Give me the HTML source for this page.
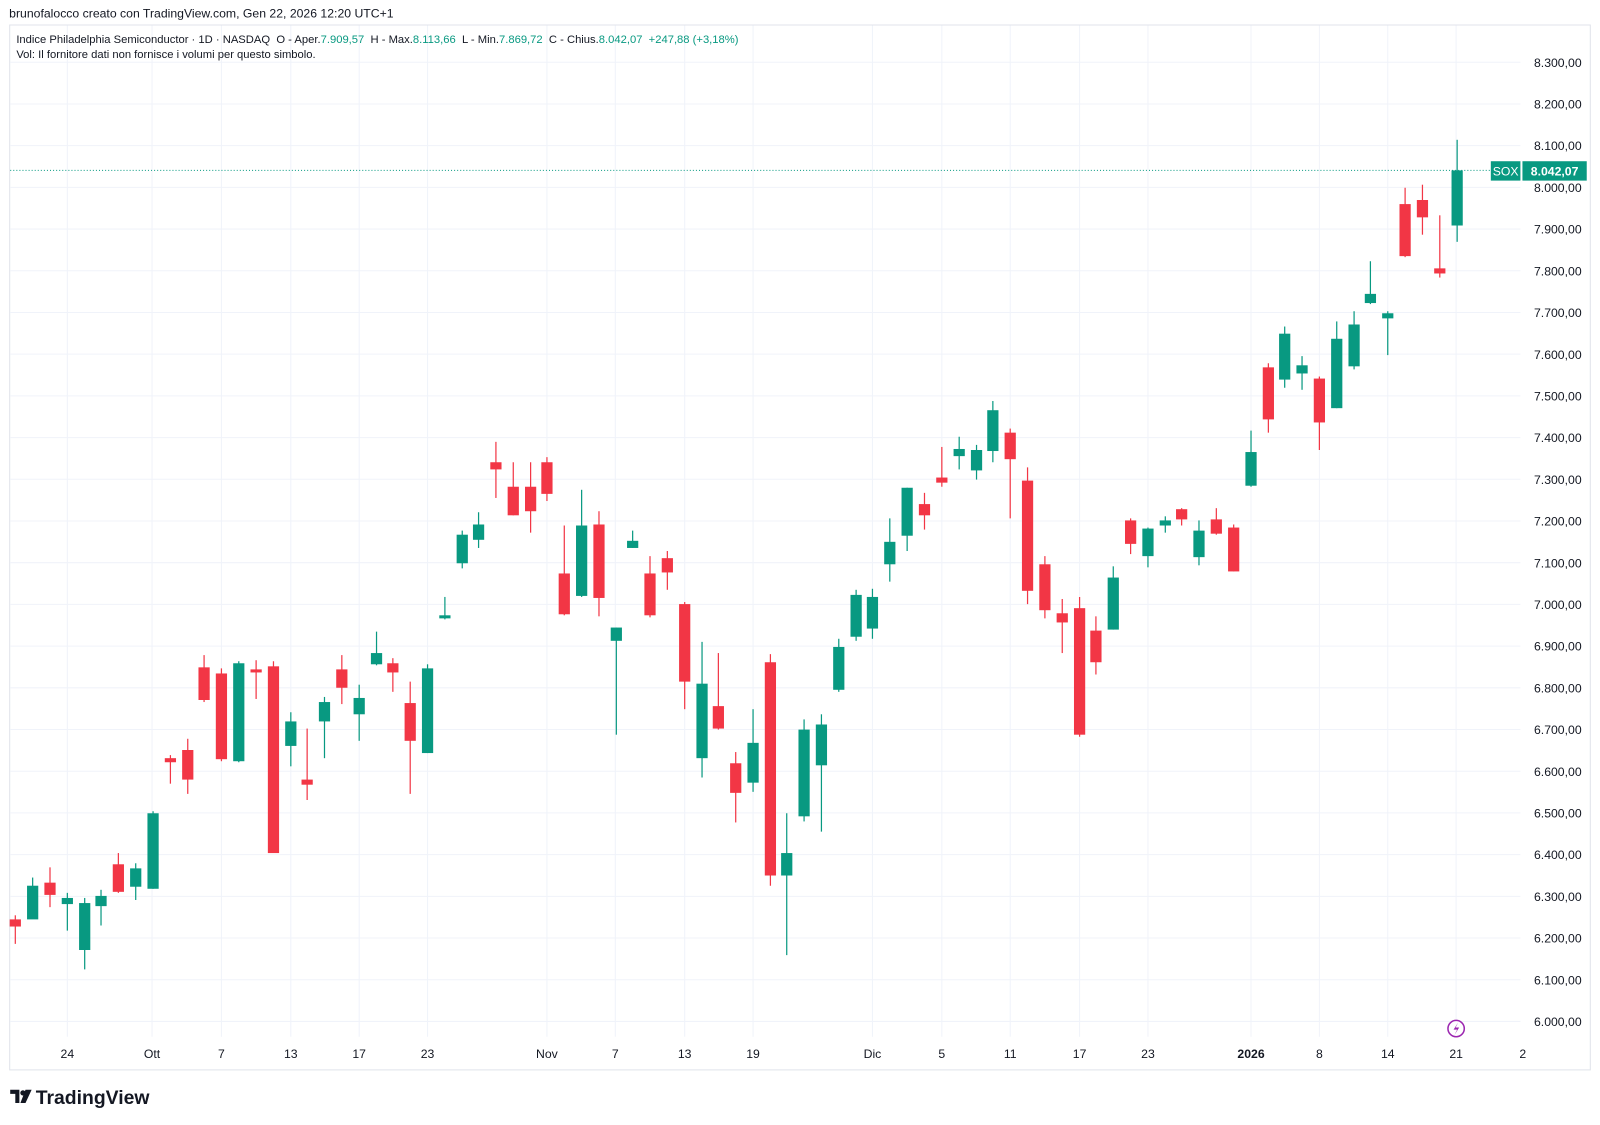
<!DOCTYPE html>
<html><head><meta charset="utf-8"><style>
html,body{margin:0;padding:0;background:#fff;}
svg{display:block;font-family:"Liberation Sans","DejaVu Sans",sans-serif;}
</style></head><body>
<svg id="c" width="1600" height="1125" viewBox="0 0 1568 1102.5" xmlns="http://www.w3.org/2000/svg">
<rect x="0" y="0" width="1568" height="1102.5" fill="#fff"/>
<text x="9" y="17" font-size="12" fill="#131722">brunofalocco creato con TradingView.com, Gen 22, 2026 12:20 UTC+1</text>
<rect x="9.5" y="24.5" width="1549" height="1024" fill="none" stroke="#e0e3eb" stroke-width="1"/>
<g id="grid"></g>
<g id="candles"></g>
<line x1="10" y1="167" x2="1460" y2="167" stroke="#089981" stroke-width="1" stroke-dasharray="1,2"/>
<rect x="1461" y="158" width="29" height="19" fill="#089981"/>
<text x="1475.5" y="172" font-size="12" fill="#fff" text-anchor="middle">SOX</text>
<rect x="1492" y="158" width="63" height="19" fill="#089981"/>
<text x="1523.5" y="172" font-size="12" font-weight="bold" fill="#fff" text-anchor="middle">8.042,07</text>
<text x="16" y="42" font-size="11" fill="#131722">Indice Philadelphia Semiconductor · 1D · NASDAQ&#160; O - Aper.<tspan fill="#089981">7.909,57</tspan>&#160; H - Max.<tspan fill="#089981">8.113,66</tspan>&#160; L - Min.<tspan fill="#089981">7.869,72</tspan>&#160; C - Chius.<tspan fill="#089981">8.042,07&#160; +247,88 (+3,18%)</tspan></text>
<text x="16" y="57" font-size="11" fill="#131722">Vol: Il fornitore dati non fornisce i volumi per questo simbolo.</text>
<circle cx="1427" cy="1008" r="8" fill="#fff" stroke="#9c27b0" stroke-width="1.5"/>
<path d="M1429 1002 L1424.5 1009 L1428 1009 L1425.5 1014 L1430 1007 L1426.5 1007 Z" fill="#9c27b0"/>
<g transform="translate(10,1066)">
<path d="M0 2 H9 V15 H5 V6 H0 Z" fill="#131722"/>
<circle cx="12.5" cy="5" r="2.6" fill="#131722"/>
<path d="M15 2 H21 L15 15 H10 Z" fill="#131722"/>
</g>
<text x="35" y="1082" font-size="19" font-weight="bold" fill="#131722">TradingView</text>
</svg>
<script>
var NS="http://www.w3.org/2000/svg";
function el(p,t,a,txt){var e=document.createElementNS(NS,t);for(var k in a)e.setAttribute(k,a[k]);if(txt)e.textContent=txt;p.appendChild(e);return e;}
var g=document.getElementById('grid'),cg=document.getElementById('candles'),svg=document.getElementById('c');
for(var k=0;k<=23;k++){var y=61+k*40.87;el(g,'line',{x1:10,x2:1490,y1:y,y2:y,stroke:'#f0f3fa','stroke-width':1});
var p=8300-k*100;var s=(p/1000|0)+'.'+('00'+(p%1000)).slice(-3)+',00';
el(svg,'text',{x:1550,y:y+4.5,'font-size':12,fill:'#131722','text-anchor':'end'},s);}
var xl=[[66,'24'],[149,'Ott'],[217,'7'],[285,'13'],[352,'17'],[419,'23'],[536,'Nov'],[603,'7'],[671,'13'],[738,'19'],[855,'Dic'],[923,'5'],[990,'11'],[1058,'17'],[1125,'23'],[1226,'2026'],[1293,'8'],[1360,'14'],[1427,'21']];
xl.forEach(function(a){el(g,'line',{x1:a[0],x2:a[0],y1:25,y2:1016,stroke:'#f0f3fa','stroke-width':1});
var t=el(svg,'text',{x:a[0],y:1037,'font-size':12,fill:'#131722','text-anchor':'middle'},a[1]);if(a[1]=='2026')t.setAttribute('font-weight','bold');});
el(svg,'text',{x:1489,y:1037,'font-size':12,fill:'#131722'},'2');
var d=[
[15,0,897,925,901,908],[32,1,860,900,868,901],[49,0,850,889,865,877],[66,1,875,912,880,886],[83,1,880,950,885,931],[99,1,872,907,878,888],[116,0,836,875,847,874],[133,1,846,882,851,869],[150,1,795,871,797,871],[167,0,740,768,743,747],
[184,0,724,778,735,764],[200,0,642,688,654,686],[217,0,655,746,660,744],[234,1,648,747,650,746],[251,0,647,685,656,659],[268,0,648,836,653,836],[285,1,698,751,707,731],[301,0,714,784,764,769],[318,1,683,743,688,707],[335,0,642,690,656,674],
[352,1,671,726,684,700],[369,1,619,652,640,651],[385,0,645,678,650,659],[402,0,668,778,689,726],[419,1,651,738,655,738],[436,1,585,607,603,606],[453,1,520,557,524,552],[469,1,502,537,514,529],[486,0,433,488,453,460],[503,0,453,505,477,505],
[520,0,453,522,477,501],[536,0,448,491,453,484],[553,0,515,603,562,602],[570,1,480,585,515,584],[587,0,501,604,514,586],[604,1,615,720,615,628],[620,1,520,537,530,537],[637,0,545,605,562,603],[654,0,540,578,547,561],[671,0,590,695,592,668],
[688,1,629,762,670,743],[704,0,640,715,692,714],[721,0,737,806,748,777],[738,1,695,776,728,767],[755,0,641,868,649,858],[771,1,797,936,836,858],[788,1,705,805,715,800],[805,1,700,815,710,750],[822,1,626,678,634,676],[839,1,578,628,583,624],
[855,1,577,626,585,616],[872,1,508,570,531,553],[889,1,478,540,478,525],[906,0,483,519,494,505],[923,0,438,477,468,473],[940,1,428,460,440,447],[957,1,436,470,441,461],[973,1,393,453,402,442],[990,0,420,508,424,450],[1007,0,458,592,471,579],
[1024,0,545,606,553,598],[1041,0,587,640,601,610],[1058,0,585,722,596,720],[1074,0,604,661,618,649],[1091,1,555,617,566,617],[1108,0,508,543,510,533],[1125,1,517,556,518,545],[1142,1,506,522,510,515],[1158,0,498,515,499,509],[1175,1,510,554,520,546],
[1192,0,498,524,509,523],[1209,0,514,560,517,560],[1226,1,422,477,443,476],[1243,0,356,424,360,411],[1259,1,320,380,327,372],[1276,1,349,382,358,366],[1293,0,369,441,371,414],[1310,1,315,400,332,400],[1327,1,305,362,318,359],[1343,1,256,298,288,297],
[1360,1,305,348,307,312],[1377,0,184,252,200,251],[1394,0,181,230,196,213],[1411,0,211,272,263,268],[1428,1,137,237,167,221]];
d.forEach(function(c){var col=c[1]?'#089981':'#f23645';
el(cg,'line',{x1:c[0],x2:c[0],y1:c[2],y2:c[3],stroke:col,'stroke-width':1.2});
el(cg,'rect',{x:c[0]-5.5,y:c[4],width:11,height:Math.max(2,c[5]-c[4]),fill:col});});
</script>
</body></html>
